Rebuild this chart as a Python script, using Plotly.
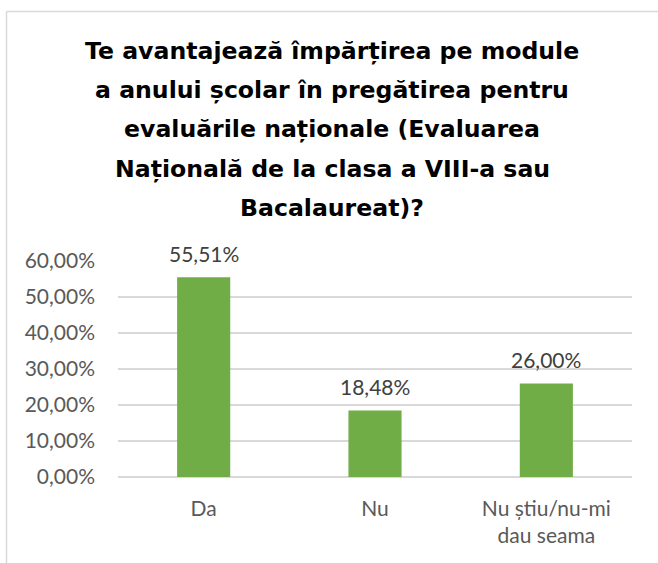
import plotly.graph_objects as go

categories = ["Da", "Nu", "Nu știu/nu-mi<br>dau seama"]
values = [0.5551, 0.1848, 0.2600]
title_lines = [
    "Te avantajează împărțirea pe module",
    "a anului școlar în pregătirea pentru",
    "evaluările naționale (Evaluarea",
    "Națională de la clasa a VIII-a sau",
    "Bacalaureat)?",
]
tick_vals = [0, 0.1, 0.2, 0.3, 0.4, 0.5, 0.6]

W, H = 658, 563
L, R, T, B = 118, 26, 261, 86
ph = H - T - B
pw = W - L - R

def py(ypx):
    return (H - B - ypx) / ph

def px(xpx):
    return (xpx - L) / pw

FONT = "Lato"
TFONT = "DejaVu Sans"

fig = go.Figure()
fig.add_trace(go.Bar(
    x=categories, y=values,
    marker=dict(color="#70ad47", line=dict(width=0)),
    width=0.31,
    hoverinfo="skip",
))

annotations = []
for i, line in enumerate(title_lines):
    annotations.append(dict(
        x=px(332), y=py(51 + i * 39.2), xref="paper", yref="paper",
        text=f"<b>{line}</b>", showarrow=False, xanchor="center", yanchor="middle",
        font=dict(family=TFONT, size=23.6, color="#000000"),
    ))
for c, v in zip(categories, values):
    annotations.append(dict(
        x=c, y=v, xref="x", yref="y",
        text=f"{v*100:.2f}%".replace(".", ","), showarrow=False,
        xanchor="center", yanchor="middle", yshift=24,
        font=dict(family=FONT, size=21, color="#404040"),
    ))

shapes = [
    dict(type="line", xref="paper", yref="paper", x0=px(6.5), x1=px(660), y0=py(11.5), y1=py(11.5),
         line=dict(color="#d9d9d9", width=1.5)),
    dict(type="line", xref="paper", yref="paper", x0=px(6.5), x1=px(6.5), y0=py(11.5), y1=py(565),
         line=dict(color="#d9d9d9", width=1.5)),
]

fig.update_layout(
    width=W, height=H,
    margin=dict(l=L, r=R, t=T, b=B, autoexpand=False),
    paper_bgcolor="white", plot_bgcolor="white",
    separators=",.",
    showlegend=False,
    annotations=annotations,
    shapes=shapes,
    font=dict(family=FONT, size=21, color="#595959"),
)
fig.update_xaxes(
    showgrid=False, showline=False, zeroline=False, ticks="",
    tickfont=dict(family=FONT, size=21, color="#595959"),
    ticklabelstandoff=17,
)
fig.update_yaxes(
    range=[0, 0.6], tickvals=tick_vals, tickformat=".2%",
    showgrid=True, gridcolor="#d9d9d9", gridwidth=1.5,
    zeroline=True, zerolinecolor="#d9d9d9", zerolinewidth=1.5,
    showline=False, ticks="",
    tickfont=dict(family=FONT, size=21, color="#595959"),
    ticklabelstandoff=22,
)

fig.write_html("out.html", config={"displayModeBar": False},
               post_script="document.body.style.margin='0';document.body.style.overflow='hidden';")
